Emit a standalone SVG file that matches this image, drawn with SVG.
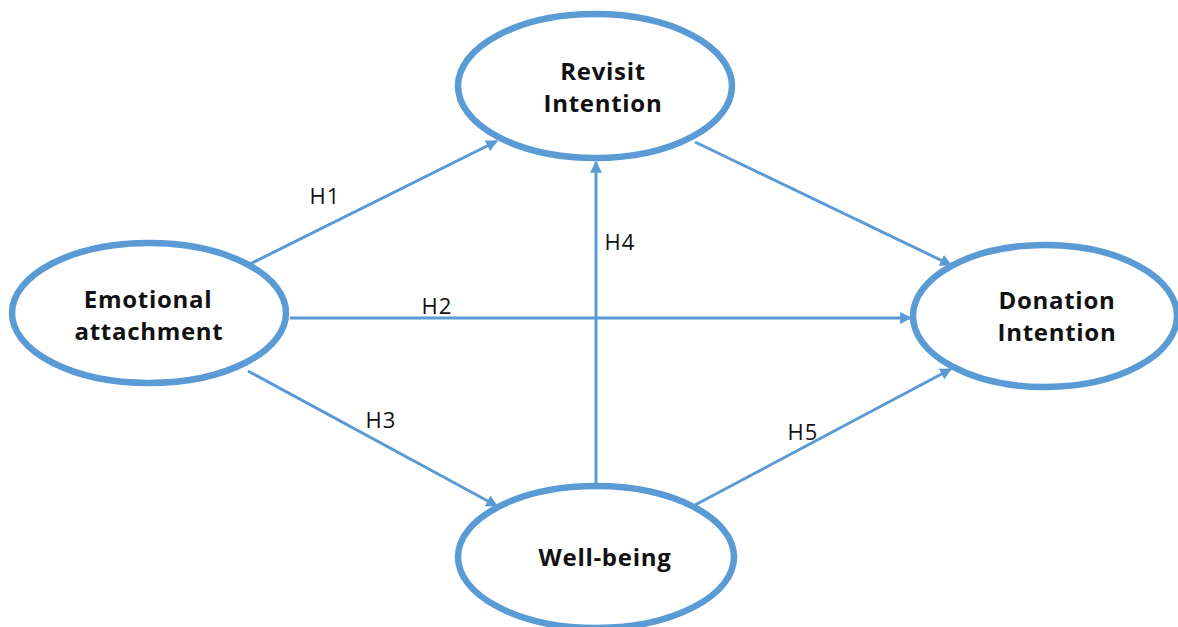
<svg xmlns="http://www.w3.org/2000/svg" width="1178" height="627" viewBox="0 0 1178 627">
<style>
.node{fill:#fff;stroke:#5B9BD5;stroke-width:6.5}
.lbl{font-family:"Open Sans","Liberation Sans",sans-serif;font-weight:bold;font-size:24px;letter-spacing:0.7px;fill:#111;text-anchor:middle}
.h{font-family:"Open Sans","Liberation Sans",sans-serif;font-size:22px;letter-spacing:1px;fill:#111;text-anchor:middle}
.c{stroke:#5B9BD5;stroke-width:3;fill:none;marker-end:url(#ah)}
</style>
<defs>
<marker id="ah" viewBox="0 0 10 10" refX="9" refY="5" markerWidth="4" markerHeight="4" orient="auto" markerUnits="strokeWidth">
<path d="M0,0 L10,5 L0,10 z" fill="#5B9BD5"/>
</marker>
</defs>
<g id="connectors">
<line class="c" x1="248" y1="265" x2="497" y2="141"/>
<line class="c" x1="290" y1="318" x2="911" y2="318"/>
<line class="c" x1="248" y1="371" x2="497" y2="506"/>
<line class="c" x1="596" y1="484" x2="596" y2="162"/>
<line class="c" x1="695" y1="142" x2="951" y2="265"/>
<line class="c" x1="695" y1="505" x2="951" y2="369"/>
<text class="h" x="325" y="204">H1</text>
<text class="h" x="437" y="314">H2</text>
<text class="h" x="381" y="428">H3</text>
<text class="h" x="620" y="250">H4</text>
<text class="h" x="803" y="440">H5</text>
</g>
<g id="revisit">
<ellipse class="node" cx="595" cy="86" rx="137" ry="72"/>
<text class="lbl" x="603" y="80">Revisit</text>
<text class="lbl" x="603" y="112">Intention</text>
</g>
<g id="emotional">
<ellipse class="node" cx="149" cy="313" rx="137" ry="70"/>
<text class="lbl" x="148" y="308">Emotional</text>
<text class="lbl" x="149" y="340">attachment</text>
</g>
<g id="donation">
<ellipse class="node" cx="1045" cy="316" rx="132" ry="71"/>
<text class="lbl" x="1057" y="309">Donation</text>
<text class="lbl" x="1057" y="341">Intention</text>
</g>
<g id="wellbeing">
<ellipse class="node" cx="596" cy="557" rx="138" ry="71"/>
<text class="lbl" x="605" y="566">Well-being</text>
</g>
</svg>
